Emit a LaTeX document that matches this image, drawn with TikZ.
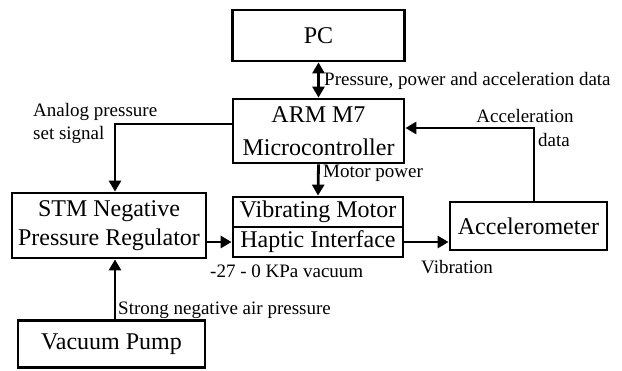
\documentclass[tikz,border=0pt]{standalone}
\usepackage{fontspec}
\setmainfont{Liberation Serif}
\usetikzlibrary{arrows.meta}
\tikzset{
  blk/.style={draw, line width=2.8pt, inner sep=0pt, align=center, font=\fontsize{24}{29}\selectfont},
  arr/.style={line width=2.8pt, -{Triangle[width=12pt,length=11pt]}},
  darr/.style={line width=2.8pt, {Triangle[width=12pt,length=11pt]}-{Triangle[width=12pt,length=11pt]}},
  lbl/.style={inner sep=0pt, font=\fontsize{19}{23}\selectfont}
}
\begin{document}
\begin{tikzpicture}[x=1pt,y=-1pt]
\useasboundingbox (0,0) rectangle (622,370);
% boxes
\node[blk, minimum width=172pt, minimum height=51pt] (pc) at (318.5,35.5) {PC};
\node[blk, minimum width=171pt, minimum height=64pt, font=\fontsize{24}{33}\selectfont] (arm) at (318.5,131) {ARM M7\\Microcontroller};
\node[blk, minimum width=194pt, minimum height=65pt] (stm) at (109,225.5) {STM Negative\\Pressure Regulator};
\node[blk, minimum width=170pt, minimum height=30pt] (vib) at (318,212) {Vibrating Motor};
\node[blk, minimum width=170pt, minimum height=30pt] (hap) at (318,242) {Haptic Interface};
\node[blk, minimum width=157pt, minimum height=48pt] (acc) at (528.5,226) {Accelerometer};
\node[blk, minimum width=187pt, minimum height=47pt] (vac) at (111.5,344) {Vacuum Pump};
% helper coordinates
\coordinate (k1) at (115,124);
\coordinate (k2) at (534,128);
% connectors
\draw[darr] (pc.south) -- (arm.north);
\draw[arr] (arm.west |- k1) -| (stm.north -| k1);
\draw[arr] (arm.south) -- (vib.north);
\draw[arr] (stm.east |- hap.west) -- (hap.west);
\draw[arr] (hap.east) -- (acc.west |- hap.east);
\draw[arr] (acc.north -| k2) |- (arm.east |- k2);
\draw[arr] (vac.north -| k1) -- (stm.south -| k1);
% labels
\node[lbl, anchor=west] (l1) at (324,81) {Pressure, power and acceleration data};
\node[lbl, anchor=west] (l2) at (33,112) {Analog pressure};
\node[lbl, anchor=west] (l3) at (33,135) {set signal};
\node[lbl] (l4) at (525,116) {Acceleration};
\node[lbl] (l5) at (554,140) {data};
\node[lbl, anchor=west] (l6) at (323,173) {Motor power};
\node[lbl, anchor=west] (l7) at (210,271) {-27 - 0 KPa vacuum};
\node[lbl, anchor=west] (l8) at (421,267) {Vibration};
\node[lbl, anchor=west] (l9) at (118,310) {Strong negative air pressure};
\end{tikzpicture}
\end{document}
